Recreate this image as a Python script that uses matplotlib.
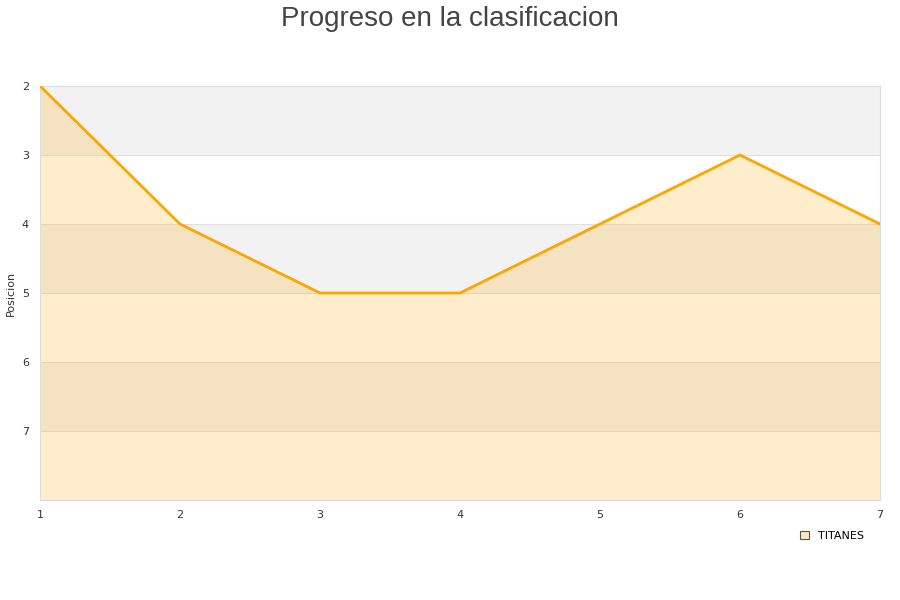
import matplotlib
matplotlib.use("Agg")
import matplotlib.pyplot as plt
from matplotlib.patches import Patch

# datos
jornadas = [1, 2, 3, 4, 5, 6, 7]
posicion = [2, 4, 5, 5, 4, 3, 4]
equipo = "TITANES"
yticks = [2, 3, 4, 5, 6, 7]

fig = plt.figure(figsize=(9, 6), dpi=100)
ax = fig.add_axes([40/900, 100/600, 840/900, 414/600])

# bandas alternas
for i, y in enumerate(range(2, 8)):
    ax.axhspan(y, y + 1, color="#f2f2f2" if i % 2 == 0 else "white", zorder=0, lw=0)
for y in yticks:
    ax.axhline(y, color="#e0e0e0", lw=0.8, zorder=1)

ax.fill_between(jornadas, posicion, 8, color="orange", alpha=0.2, lw=0, zorder=2)
ax.plot(jornadas, posicion, color="orange", lw=2, zorder=3)

ax.set_xlim(1, 7)
ax.set_ylim(8, 2)
ax.set_yticks(yticks)
ax.set_xticks(jornadas)
ax.tick_params(length=0, labelsize=8, colors="#333333")
ax.tick_params(axis="x", pad=7)
ax.tick_params(axis="y", pad=8)
for s in ax.spines.values():
    s.set_color("#dddddd")
ax.set_ylabel("Posicion", fontsize=8, color="#333333", labelpad=4)

fig.suptitle("Progreso en la clasificacion", fontsize=20, color="#444444",
             y=0.99, family="Liberation Sans")

h = Patch(facecolor="#fde7c2", edgecolor="#555555", lw=0.8)
fig.legend([h], [equipo], loc="center left", bbox_to_anchor=(0.878, 0.107),
           frameon=False, fontsize=8, handlelength=0.8, handleheight=0.8,
           handletextpad=0.8)

fig.savefig("out.png")
